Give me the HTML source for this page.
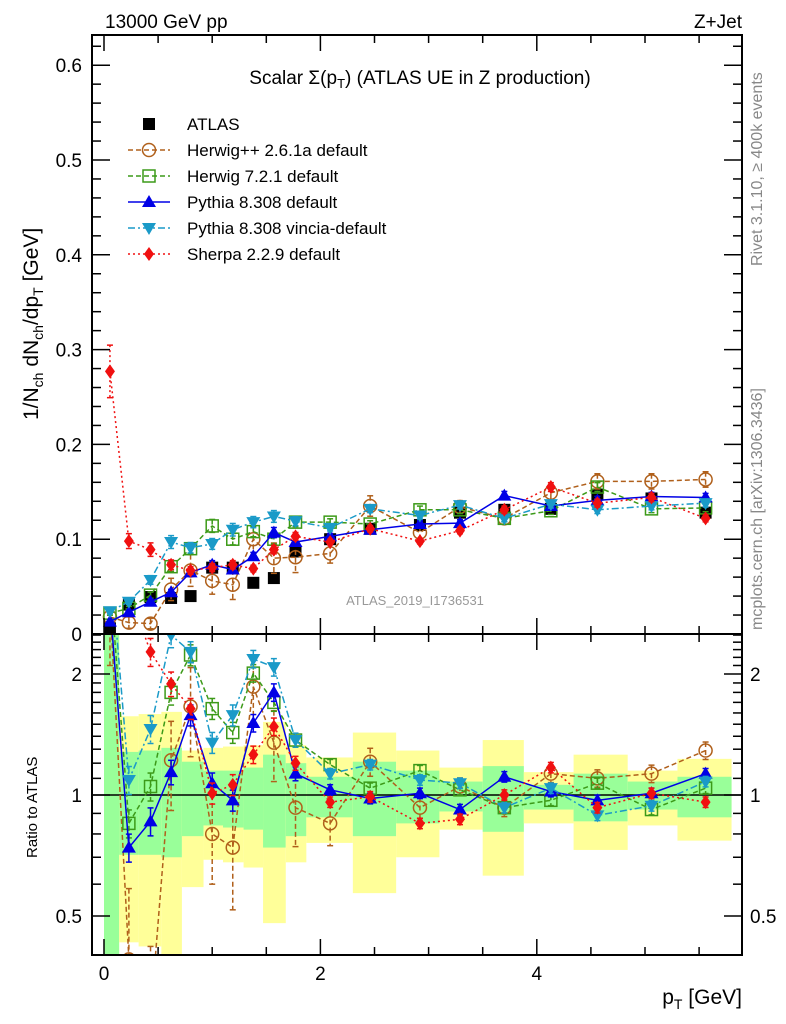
<!DOCTYPE html>
<html><head><meta charset="utf-8"><style>
html,body{margin:0;padding:0;background:#fff;overflow:hidden;width:786px;height:1024px;}
svg{display:block;position:absolute;left:0;top:0;font-family:"Liberation Sans",sans-serif;overflow:hidden;}
</style></head><body>
<svg id="c" width="786" height="1024" viewBox="0 0 786 1024" xmlns="http://www.w3.org/2000/svg">
<defs>
<clipPath id="cm"><rect x="92" y="35" width="650" height="599"/></clipPath>
<clipPath id="cr"><rect x="92" y="634" width="650" height="321"/></clipPath>
</defs>
<g id="bands" clip-path="url(#cr)"></g>
<g id="marks"></g>
<g id="axes"></g>
<text x="105" y="28" font-size="19">13000 GeV pp</text>
<text x="742" y="28" font-size="19" text-anchor="end">Z+Jet</text>
<text x="420" y="84" font-size="19" text-anchor="middle">Scalar Σ(p<tspan font-size="13" dy="4">T</tspan><tspan dy="-4">) (ATLAS UE in Z production)</tspan></text>
<text x="415" y="605" font-size="13" fill="#999" text-anchor="middle">ATLAS_2019_I1736531</text>
<text transform="translate(762,266) rotate(-90)" font-size="16" fill="#888">Rivet 3.1.10, ≥ 400k events</text>
<text transform="translate(762,630) rotate(-90)" font-size="16" fill="#888">mcplots.cern.ch [arXiv:1306.3436]</text>
<text transform="translate(38,420) rotate(-90)" font-size="21">1/N<tspan font-size="14" dy="5">ch</tspan><tspan dy="-5"> dN</tspan><tspan font-size="14" dy="5">ch</tspan><tspan dy="-5">/dp</tspan><tspan font-size="14" dy="5">T</tspan><tspan dy="-5"> [GeV]</tspan></text>
<text transform="translate(37,858) rotate(-90)" font-size="15">Ratio to ATLAS</text>
<text x="742" y="1004" font-size="21" text-anchor="end">p<tspan font-size="14" dy="5">T</tspan><tspan dy="-5"> [GeV]</tspan></text>
<g id="legend"></g>
</svg>
<script>
const xCenters=[0.055,0.23,0.43,0.62,0.80,1.0,1.19,1.38,1.57,1.77,2.09,2.46,2.92,3.29,3.70,4.13,4.56,5.06,5.56];
const binEdges=[0,0.14,0.32,0.53,0.72,0.92,1.1,1.29,1.47,1.68,1.87,2.3,2.7,3.1,3.5,3.88,4.34,4.84,5.3,5.8];
const atlas=[0.006,0.031,0.039,0.038,0.040,0.070,0.070,0.054,0.059,0.087,0.100,0.111,0.115,0.128,0.131,0.132,0.147,0.143,0.128];
const herwigpp=[0.018,0.012,0.011,0.047,0.067,0.056,0.052,0.100,0.080,0.081,0.085,0.135,0.107,0.134,0.122,0.149,0.161,0.161,0.163];
const herwig7=[0.022,0.027,0.041,0.071,0.090,0.114,0.100,0.108,0.100,0.118,0.118,0.116,0.131,0.131,0.122,0.130,0.155,0.132,0.133];
const pythia=[0.013,0.023,0.034,0.044,0.065,0.073,0.068,0.082,0.107,0.097,0.103,0.110,0.116,0.117,0.146,0.135,0.141,0.145,0.144];
const vincia=[0.024,0.034,0.057,0.097,0.091,0.095,0.110,0.118,0.124,0.119,0.112,0.132,0.125,0.136,0.122,0.137,0.131,0.135,0.138];
const sherpa=[0.277,0.098,0.089,0.073,0.067,0.070,0.073,0.069,0.089,0.103,0.097,0.111,0.098,0.109,0.131,0.155,0.138,0.144,0.122];
const rHerwigpp=[3.0,0.39,0.28,1.22,1.66,0.80,0.74,1.86,1.35,0.93,0.85,1.21,0.93,1.05,0.93,1.13,1.10,1.13,1.29];
const rHerwig7=[3.5,0.85,1.05,1.80,2.23,1.64,1.43,2.01,1.70,1.37,1.19,1.04,1.15,1.03,0.93,0.97,1.07,0.92,1.04];
const rPythia=[3.0,0.74,0.86,1.14,1.58,1.07,0.97,1.51,1.80,1.13,1.03,0.98,1.01,0.92,1.11,1.02,0.97,1.01,1.13];
const rVincia=[4.0,1.09,1.46,2.50,2.27,1.35,1.58,2.18,2.08,1.37,1.13,1.19,1.09,1.07,0.93,1.04,0.89,0.94,1.08];
const rSherpa=[40,3.2,2.27,1.89,1.64,1.01,1.06,1.26,1.48,1.20,0.96,0.99,0.85,0.87,1.00,1.17,0.93,1.01,0.96];
const relErr=[0.3,0.5,0.5,0.25,0.25,0.25,0.3,0.2,0.2,0.2,0.12,0.08,0.06,0.05,0.05,0.05,0.05,0.05,0.05];
const relErrMC=[0.1,0.08,0.08,0.07,0.06,0.06,0.06,0.05,0.05,0.04,0.03,0.03,0.03,0.03,0.03,0.03,0.03,0.03,0.03];
const yelHi=[3,1.57,1.59,1.61,1.29,1.31,1.32,1.33,1.52,1.33,1.24,1.43,1.29,1.17,1.37,1.14,1.26,1.15,1.23];
const grnHi=[3,1.28,1.29,1.31,1.21,1.15,1.15,1.17,1.26,1.20,1.11,1.21,1.15,1.08,1.18,1.06,1.13,1.08,1.11];
const grnLo=[0.3,0.71,0.71,0.70,0.79,0.84,0.83,0.82,0.74,0.79,0.88,0.79,0.85,0.91,0.81,0.92,0.86,0.92,0.88];
const yelLo=[0.3,0.43,0.42,0.3,0.59,0.69,0.68,0.66,0.48,0.68,0.76,0.57,0.70,0.82,0.63,0.85,0.73,0.84,0.77];
const yTicksMain=[0,0.1,0.2,0.3,0.4,0.5,0.6];
const yTicksRatio=[0.5,1,2];
const xTicks=[0,2,4];

const NS="http://www.w3.org/2000/svg";
const clampY=y=>Math.max(0,Math.min(1020,y));
const X=v=>104+v*108.2;
const Y=v=>clampY(634-v*948);
const R=v=>clampY(795-121*Math.log2(v));
function mk(tag,at,parent){const e=document.createElementNS(NS,tag);for(const k in at)e.setAttribute(k,at[k]);parent.appendChild(e);return e;}
const bands=document.getElementById('bands'),marks=document.getElementById('marks'),axes=document.getElementById('axes'),legend=document.getElementById('legend');

for(let i=0;i<xCenters.length;i++){
  const x0=X(binEdges[i]),w=X(binEdges[i+1])-x0;
  const y1=mk('rect',{x:x0,y:R(yelHi[i]),width:w,height:R(yelLo[i])-R(yelHi[i]),fill:'#ffff99'},bands);
  
  
  const g1=mk('rect',{x:x0,y:R(grnHi[i]),width:w,height:R(grnLo[i])-R(grnHi[i]),fill:'#99ff99'},bands);
  
  
}
const l1=mk('line',{x1:92,x2:742,y1:R(1),y2:R(1),stroke:'#000','stroke-width':1.5},bands);



function marker(g,type,x,y,col){
  let e;
  if(type==='sq') e=mk('rect',{x:x-6,y:y-6,width:12,height:12,fill:col},g);
  else if(type==='osq') e=mk('rect',{x:x-6,y:y-6,width:12,height:12,fill:'none',stroke:col,'stroke-width':1.5},g);
  else if(type==='oc') e=mk('circle',{cx:x,cy:y,r:6.5,fill:'none',stroke:col,'stroke-width':1.5},g);
  else if(type==='tu') e=mk('polygon',{points:`${x},${y-7} ${x-7},${y+5} ${x+7},${y+5}`,fill:col},g);
  else if(type==='td') e=mk('polygon',{points:`${x},${y+7} ${x-7},${y-5} ${x+7},${y-5}`,fill:col},g);
  else if(type==='di') e=mk('polygon',{points:`${x},${y-7} ${x-5},${y} ${x},${y+7} ${x+5},${y}`,fill:col},g);
  return e;
}
const series=[
 {name:'herwigpp',label:'Herwig++ 2.6.1a default',main:herwigpp,ratio:rHerwigpp,err:relErr,col:'#b0601b',m:'oc',dash:'5,3'},
 {name:'herwig7',label:'Herwig 7.2.1 default',main:herwig7,ratio:rHerwig7,err:relErrMC,col:'#3c9a18',m:'osq',dash:'5,3'},
 {name:'pythia',label:'Pythia 8.308 default',main:pythia,ratio:rPythia,err:relErrMC,col:'#0000e6',m:'tu',dash:''},
 {name:'vincia',label:'Pythia 8.308 vincia-default',main:vincia,ratio:rVincia,err:relErrMC,col:'#1a9ac8',m:'td',dash:'7,3,2,3'},
 {name:'sherpa',label:'Sherpa 2.2.9 default',main:sherpa,ratio:rSherpa,err:relErrMC,col:'#f01010',m:'di',dash:'2,3'}
];
const ga=mk('g',{'clip-path':'url(#cm)'},marks);


atlas.forEach((v,i)=>{const e=marker(ga,'sq',X(xCenters[i]),Y(v),'#000');
 
 });
series.forEach(s=>{
  [['main',Y,'url(#cm)'],['ratio',R,'url(#cr)']].forEach(([key,F,clip])=>{
    const g=mk('g',{'clip-path':clip},marks);
    
    
    const vals=s[key];
    const pts=vals.map((v,i)=>X(xCenters[i])+','+F(v)).join(' ');
    mk('polyline',{points:pts,fill:'none',stroke:s.col,'stroke-width':1.5,'stroke-dasharray':s.dash},g);
    vals.forEach((v,i)=>{
      const x=X(xCenters[i]),e=s.err[i];
      const hi=F(v*(1+e)),lo=F(Math.max(v*(1-e),1e-4));
      mk('line',{x1:x,x2:x,y1:hi,y2:lo,stroke:s.col,'stroke-width':1.5,'stroke-dasharray':s.dash},g);
      mk('line',{x1:x-3,x2:x+3,y1:hi,y2:hi,stroke:s.col,'stroke-width':1.5},g);
      mk('line',{x1:x-3,x2:x+3,y1:lo,y2:lo,stroke:s.col,'stroke-width':1.5},g);
      const m=marker(g,s.m,x,F(v),s.col);
      
      
    });
  });
});
const lg=[{label:'ATLAS',m:'sq',col:'#000',dash:null}].concat(series);
lg.forEach((s,i)=>{
  const y=124+i*26;
  const g=mk('g',{},legend);
  
  
  if(s.dash!==null) mk('line',{x1:128,x2:170,y1:y,y2:y,stroke:s.col,'stroke-width':1.5,'stroke-dasharray':s.dash},g);
  marker(g,s.m,149,y,s.col);
  const t=mk('text',{x:187,y:y+6,'font-size':17},g);t.textContent=s.label;
});
[[35,634],[634,955]].forEach(([t,b])=>{
  const f=mk('rect',{x:92,y:t,width:650,height:b-t,fill:'none',stroke:'#000','stroke-width':2},axes);
  
  
});
for(let k=0;k<=11;k++){
  const v=k*0.5,x=X(v),L=(k%4===0)?16:8;
  [[35,1],[634,-1],[634,1],[955,-1]].forEach(([y,d])=>mk('line',{x1:x,x2:x,y1:y,y2:y+d*L,stroke:'#000','stroke-width':1.5},axes));
}
xTicks.forEach(v=>{const t=mk('text',{x:X(v),y:980,'font-size':19,'text-anchor':'middle'},axes);t.textContent=v;
 
 });
for(let k=0;k<=31;k++){
  const v=k*0.02,y=634-v*948; if(y<35)break;
  const L=(k%5===0)?18:9;
  mk('line',{x1:92,x2:92+L,y1:y,y2:y,stroke:'#000','stroke-width':1.5},axes);
  mk('line',{x1:742,x2:742-L,y1:y,y2:y,stroke:'#000','stroke-width':1.5},axes);
}
yTicksMain.forEach(v=>{const t=mk('text',{x:82,y:Y(v)+7,'font-size':19,'text-anchor':'end'},axes);t.textContent=v===0?'0':v.toFixed(1);
 
 });
const rt=[];for(let k=4;k<10;k++)rt.push(k/10);for(let k=10;k<=25;k++)rt.push(k/10);
rt.forEach(v=>{const y=R(v);if(y<634||y>955)return;
 const major=[0.5,1,2].some(m=>Math.abs(m-v)<1e-6);const L=major?18:9;
 mk('line',{x1:92,x2:92+L,y1:y,y2:y,stroke:'#000','stroke-width':1.5},axes);
 mk('line',{x1:742,x2:742-L,y1:y,y2:y,stroke:'#000','stroke-width':1.5},axes);});
yTicksRatio.forEach(v=>{
 const t=mk('text',{x:82,y:R(v)+7,'font-size':19,'text-anchor':'end'},axes);t.textContent=v;
 
 
 const t2=mk('text',{x:750,y:R(v)+7,'font-size':19},axes);t2.textContent=v;
 
 });
</script>
</body></html>
